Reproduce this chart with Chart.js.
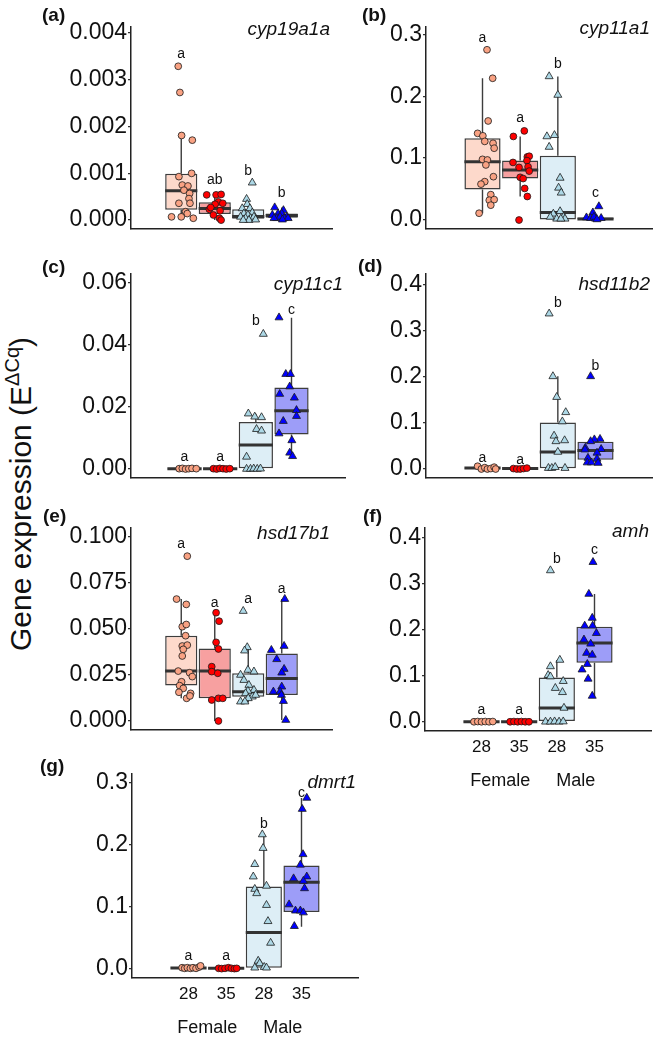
<!DOCTYPE html>
<html>
<head>
<meta charset="utf-8">
<title>Gene expression</title>
<script src="https://cdn.jsdelivr.net/npm/chart.js@4.4.1/dist/chart.umd.min.js"></script>
<style>
  html, body { margin: 0; padding: 0; background: #fff; }
  body { position: relative; width: 661px; height: 1040px; overflow: hidden;
         font-family: "Liberation Sans", Arial, Helvetica, sans-serif; color: #111; }
  canvas { position: absolute; }
  .tag { position: absolute; font-weight: bold; font-size: 19px; line-height: 19px; }
  #ytitle { position: absolute; left: 16px; top: 494px; font-size: 30px; line-height: 30px; white-space: nowrap;
            transform: translate(-50%, -50%) rotate(-90deg); }
  #ytitle span { font-size: 20px; vertical-align: 12px; }
</style>
</head>
<body>
<div id="ytitle">Gene expression (E<span>ΔCq</span>)</div>
<script>
// groups, left to right
const groupNames = ['Female 28', 'Female 35', 'Male 28', 'Male 35'];
const dayLabels = ['28', '35', '28', '35'];
const sexLabels = ['Female', 'Male'];

const boxFill = ['#fdd9cb', '#f7a0a0', '#ddeef6', '#9d9df8'];
const dotFill = ['#f9a283', '#ff0000', '#add8e6', '#0000ff'];
const dotShape = ['circle', 'circle', 'triangle', 'triangle'];

// box stats per group: [lower whisker, Q1, median, Q3, upper whisker]
// points per group: [jitter offset (category units), value]

// (a) cyp19a1a
const cyp19a1aTicks = [0, 0.001, 0.002, 0.003, 0.004];
const cyp19a1aLetters = ['a', 'ab', 'b', 'b'];
const cyp19a1aLetterY = [0.00354, 0.00085, 0.00105, 0.00057];
const cyp19a1aBox = [
  [0.00004, 0.00022, 0.00063, 0.00099, 0.00181],
  [0.00000, 0.00013, 0.00025, 0.00038, 0.00055],
  [0.00000, 0.00003, 0.00008, 0.00023, 0.00045],
  [0.00001, 0.00005, 0.00010, 0.00014, 0.00027]
];
const cyp19a1aPoints = [
  [[-0.09, 0.00329], [-0.04, 0.00273], [0.01, 0.00181], [0.33, 0.00171], [0.31, 0.00100], [-0.07, 0.00093],
   [0.03, 0.00075], [0.20, 0.00073], [0.08, 0.00064], [0.25, 0.00057], [0.23, 0.00046], [-0.07, 0.00036],
   [0.26, 0.00036], [0.13, 0.00018], [0.18, 0.00014], [0.00, 0.00007], [0.36, 0.00004], [-0.29, 0.00007]],
  [[-0.24, 0.00054], [0.04, 0.00054], [0.19, 0.00055], [0.11, 0.00039], [0.01, 0.00034], [0.24, 0.00036],
   [-0.16, 0.00023], [0.16, 0.00020], [-0.04, 0.00011], [0.14, 0.00004], [0.19, 0.00000], [-0.12, 0.00027]],
  [[0.12, 0.00080], [-0.05, 0.00045], [-0.03, 0.00034], [-0.18, 0.00025], [0.05, 0.00025], [0.12, 0.00016],
   [-0.13, 0.00014], [-0.01, 0.00011], [-0.23, 0.00007], [-0.08, 0.00004], [0.07, 0.00004], [0.17, 0.00007],
   [0.02, 0.00000], [-0.15, 0.00000], [0.22, 0.00001]],
  [[-0.21, 0.00027], [0.05, 0.00021], [-0.11, 0.00014], [-0.28, 0.00011], [0.00, 0.00014], [-0.15, 0.00004],
   [0.15, 0.00007], [0.07, 0.00004], [-0.05, 0.00007], [0.19, 0.00004], [-0.23, 0.00004], [0.02, 0.00001]]
];

// (b) cyp11a1
const cyp11a1Ticks = [0, 0.1, 0.2, 0.3];
const cyp11a1Letters = ['a', 'a', 'b', 'c'];
const cyp11a1LetterY = [0.293, 0.164, 0.251, 0.043];
const cyp11a1Box = [
  [0.011, 0.0495, 0.094, 0.132, 0.229],
  [0.038, 0.067, 0.081, 0.096, 0.135],
  [0.000, 0.001, 0.012, 0.104, 0.232],
  [0.000, 0.000, 0.0016, 0.004, 0.008]
];
const cyp11a1Points = [
  [[0.12, 0.275], [0.27, 0.229], [0.15, 0.160], [-0.13, 0.140], [0.01, 0.136], [0.06, 0.127], [0.28, 0.124],
   [0.31, 0.116], [0.00, 0.098], [0.13, 0.097], [0.09, 0.089], [0.29, 0.070], [0.06, 0.062], [-0.04, 0.058],
   [0.22, 0.041], [0.18, 0.032], [0.31, 0.033], [0.22, 0.024], [-0.09, 0.011]],
  [[0.11, 0.144], [-0.18, 0.135], [-0.19, 0.093], [0.19, 0.102], [0.24, 0.103], [0.18, 0.096], [0.21, 0.086],
   [-0.03, 0.085], [0.24, 0.079], [0.00, 0.069], [0.08, 0.067], [0.12, 0.051], [0.19, 0.038], [-0.03, 0.000]],
  [[-0.23, 0.232], [0.00, 0.202], [-0.29, 0.135], [-0.09, 0.137], [-0.23, 0.118], [0.06, 0.068], [0.02, 0.052],
   [0.09, 0.044], [0.06, 0.014], [-0.12, 0.010], [0.15, 0.005], [-0.03, 0.002], [0.19, 0.002], [0.08, 0.002],
   [-0.20, 0.005]],
  [[0.09, 0.022], [-0.07, 0.012], [-0.24, 0.004], [-0.13, 0.003], [0.00, 0.002], [0.15, 0.003], [-0.04, 0.005],
   [0.04, 0.001]]
];

// (c) cyp11c1
const cyp11c1Ticks = [0, 0.02, 0.04, 0.06];
const cyp11c1Letters = ['a', 'a', 'b', 'c'];
const cyp11c1LetterY = [0.0039, 0.0039, 0.0476, 0.0510];
const cyp11c1Box = [
  [0, 0, 0.0001, 0.0001, 0.0002],
  [0, 0, 0.0001, 0.0001, 0.0002],
  [0, 0, 0.0077, 0.0151, 0.0178],
  [0.0041, 0.0111, 0.0187, 0.0262, 0.0486]
];
const cyp11c1Points = [
  [[-0.15, 0.0001], [-0.06, 0.0002], [0.03, 0.0000], [0.12, 0.0001], [0.21, 0.0002], [0.33, 0.0001]],
  [[-0.19, 0.0001], [-0.10, 0.0000], [-0.01, 0.0002], [0.08, 0.0001], [0.17, 0.0000], [0.27, 0.0001]],
  [[0.21, 0.0434], [-0.21, 0.0178], [-0.03, 0.0168], [0.16, 0.0166], [0.02, 0.0128], [0.16, 0.0123],
   [-0.26, 0.0039], [-0.26, 0.0000], [-0.15, 0.0000], [-0.06, 0.0001], [0.04, 0.0000], [0.13, 0.0001]],
  [[-0.35, 0.0487], [-0.16, 0.0305], [-0.03, 0.0305], [-0.05, 0.0265], [-0.33, 0.0241], [0.08, 0.0229],
   [0.14, 0.0189], [0.14, 0.0170], [-0.23, 0.0154], [-0.35, 0.0114], [0.01, 0.0092], [-0.05, 0.0052],
   [0.03, 0.0041]]
];

// (d) hsd11b2
const hsd11b2Ticks = [0, 0.1, 0.2, 0.3, 0.4];
const hsd11b2Letters = ['a', 'a', 'b', 'b'];
const hsd11b2LetterY = [0.024, 0.020, 0.360, 0.224];
const hsd11b2Box = [
  [0, 0.001, 0.002, 0.003, 0.006],
  [0, 0.0005, 0.001, 0.0015, 0.002],
  [0, 0.0015, 0.037, 0.101, 0.201],
  [0.013, 0.020, 0.040, 0.059, 0.065]
];
const hsd11b2Points = [
  [[-0.13, 0.006], [-0.03, 0.000], [0.06, 0.003], [0.13, 0.000], [0.22, 0.001], [0.31, 0.004], [0.35, 0.000]],
  [[-0.18, 0.001], [-0.09, 0.000], [0.00, 0.000], [0.09, 0.001], [0.18, 0.002]],
  [[-0.23, 0.337], [-0.13, 0.201], [-0.03, 0.156], [0.21, 0.123], [0.12, 0.103], [-0.10, 0.072], [-0.05, 0.060],
   [0.18, 0.062], [0.00, 0.037], [-0.25, 0.002], [-0.16, 0.002], [-0.07, 0.004], [0.19, 0.002]],
  [[-0.13, 0.201], [0.12, 0.065], [-0.03, 0.064], [-0.13, 0.060], [-0.27, 0.046], [0.15, 0.043], [-0.28, 0.042],
   [0.04, 0.035], [-0.20, 0.024], [0.04, 0.022], [-0.22, 0.014], [-0.11, 0.014], [0.07, 0.013]]
];

// (e) hsd17b1
const hsd17b1Ticks = [0, 0.025, 0.05, 0.075, 0.1];
const hsd17b1Letters = ['a', 'a', 'a', 'a'];
const hsd17b1LetterY = [0.096, 0.0642, 0.066, 0.0716];
const hsd17b1Box = [
  [0.0123, 0.0192, 0.0271, 0.0463, 0.0662],
  [0.0000, 0.0123, 0.0271, 0.0394, 0.0588],
  [0.0101, 0.0132, 0.0159, 0.0259, 0.0407],
  [0.0005, 0.0141, 0.0231, 0.0367, 0.0662]
];
const hsd17b1Points = [
  [[0.18, 0.0895], [-0.14, 0.0662], [0.15, 0.0633], [0.03, 0.0512], [0.15, 0.0524], [0.13, 0.0463],
   [0.03, 0.0407], [0.18, 0.0412], [0.06, 0.0389], [0.03, 0.0353], [-0.09, 0.0271], [0.25, 0.0262],
   [0.33, 0.0241], [0.01, 0.0213], [-0.05, 0.0192], [0.06, 0.0177], [-0.07, 0.0156], [0.28, 0.0150],
   [0.16, 0.0123], [0.26, 0.0136]],
  [[0.04, 0.0588], [0.13, 0.0542], [0.04, 0.0427], [0.11, 0.0391], [-0.09, 0.0295], [-0.09, 0.0268],
   [0.09, 0.0259], [-0.09, 0.0114], [0.11, 0.0123], [0.24, 0.0123], [0.11, 0.0000]],
  [[-0.15, 0.0597], [-0.03, 0.0400], [-0.11, 0.0382], [-0.01, 0.0277], [0.17, 0.0268], [-0.23, 0.0250],
   [-0.13, 0.0222], [0.02, 0.0195], [0.17, 0.0168], [-0.01, 0.0163], [-0.08, 0.0150], [0.12, 0.0132],
   [0.00, 0.0123], [-0.23, 0.0105], [-0.10, 0.0105], [0.22, 0.0141]],
  [[0.09, 0.0662], [-0.31, 0.0385], [0.07, 0.0407], [-0.15, 0.0335], [0.07, 0.0282], [0.00, 0.0262],
   [0.00, 0.0186], [-0.25, 0.0159], [-0.05, 0.0159], [-0.01, 0.0141], [0.05, 0.0108], [0.12, 0.0005]]
];

// (f) amh
const amhTicks = [0, 0.1, 0.2, 0.3, 0.4];
const amhLetters = ['a', 'a', 'b', 'c'];
const amhLetterY = [0.025, 0.025, 0.353, 0.371];
const amhBox = [
  [0, 0, 0.0002, 0.0005, 0.001],
  [0, 0, 0.0002, 0.0005, 0.001],
  [0, 0, 0.030, 0.096, 0.134],
  [0.056, 0.128, 0.171, 0.206, 0.277]
];
const amhPoints = [
  [[-0.20, 0], [-0.10, 0.0005], [0.00, 0], [0.10, 0.0005], [0.20, 0], [0.30, 0.0005]],
  [[-0.24, 0], [-0.14, 0.0005], [-0.04, 0], [0.06, 0.0005], [0.16, 0], [0.26, 0]],
  [[-0.17, 0.328], [0.08, 0.134], [-0.17, 0.120], [-0.23, 0.101], [-0.17, 0.098], [0.17, 0.088], [-0.04, 0.073],
   [0.15, 0.064], [0.19, 0.030], [-0.30, 0], [-0.17, 0], [-0.06, 0.0005], [0.06, 0], [0.17, 0.0005]],
  [[-0.04, 0.346], [-0.15, 0.277], [-0.06, 0.225], [-0.26, 0.208], [-0.05, 0.208], [0.05, 0.192], [-0.28, 0.178],
   [-0.10, 0.169], [-0.21, 0.149], [-0.06, 0.145], [-0.19, 0.125], [-0.33, 0.113], [-0.17, 0.093], [-0.06, 0.056]]
];

// (g) dmrt1
const dmrt1Ticks = [0, 0.1, 0.2, 0.3];
const dmrt1Letters = ['a', 'a', 'b', 'c'];
const dmrt1LetterY = [0.0205, 0.0205, 0.234, 0.284];
const dmrt1Box = [
  [0, 0.001, 0.0015, 0.0025, 0.005],
  [0, 0.0005, 0.001, 0.0015, 0.002],
  [0, 0.002, 0.059, 0.133, 0.217],
  [0.068, 0.092, 0.140, 0.167, 0.276]
];
const dmrt1Points = [
  [[-0.17, 0.002], [-0.10, 0.001], [-0.03, 0.002], [0.05, 0.001], [0.12, 0.002], [0.20, 0.001], [0.28, 0.003],
   [0.32, 0.005]],
  [[-0.20, 0.001], [-0.12, 0.0005], [-0.03, 0.001], [0.06, 0.002], [0.14, 0.001], [0.22, 0.0005], [0.28, 0.001]],
  [[-0.04, 0.217], [-0.02, 0.195], [-0.24, 0.169], [-0.28, 0.149], [-0.24, 0.129], [-0.19, 0.122], [0.07, 0.134],
   [0.07, 0.103], [0.11, 0.077], [0.18, 0.042], [-0.15, 0.013], [-0.11, 0.009], [-0.24, 0.002], [0.01, 0.003],
   [0.07, 0.002]],
  [[0.14, 0.276], [0.02, 0.258], [0.04, 0.185], [-0.03, 0.168], [-0.21, 0.146], [0.14, 0.149], [0.05, 0.142],
   [0.08, 0.130], [-0.33, 0.104], [-0.16, 0.094], [-0.03, 0.094], [0.05, 0.091], [-0.19, 0.069]]
];

// layout of each panel on the page (axis corner positions in px)
const panels = [
  { tag: '(a)', gene: 'cyp19a1a', box: cyp19a1aBox, points: cyp19a1aPoints, letters: cyp19a1aLetters,
    letterY: cyp19a1aLetterY, ticks: cyp19a1aTicks, dec: 3, yMin: -0.00019, yMax: 0.00413,
    left: 131, top: 27, bottom: 229, right: 332, geneDy: 8, tagX: 42, tagY: 5 },
  { tag: '(b)', gene: 'cyp11a1', box: cyp11a1Box, points: cyp11a1Points, letters: cyp11a1Letters,
    letterY: cyp11a1LetterY, ticks: cyp11a1Ticks, dec: 1, yMin: -0.0145, yMax: 0.3118,
    left: 426, top: 27, bottom: 229, right: 652, geneDy: 7, tagX: 362, tagY: 5 },
  { tag: '(c)', gene: 'cyp11c1', box: cyp11c1Box, points: cyp11c1Points, letters: cyp11c1Letters,
    letterY: cyp11c1LetterY, ticks: cyp11c1Ticks, dec: 2, yMin: -0.0029, yMax: 0.0627,
    left: 131, top: 274, bottom: 478, right: 345, geneDy: 16, tagX: 42, tagY: 257 },
  { tag: '(d)', gene: 'hsd11b2', box: hsd11b2Box, points: hsd11b2Points, letters: hsd11b2Letters,
    letterY: hsd11b2LetterY, ticks: hsd11b2Ticks, dec: 1, yMin: -0.0195, yMax: 0.423,
    left: 426, top: 274, bottom: 478, right: 652, geneDy: 16, tagX: 358, tagY: 256 },
  { tag: '(e)', gene: 'hsd17b1', box: hsd17b1Box, points: hsd17b1Points, letters: hsd17b1Letters,
    letterY: hsd17b1LetterY, ticks: hsd17b1Ticks, dec: 3, yMin: -0.0049, yMax: 0.1048,
    left: 131, top: 528, bottom: 730, right: 332, geneDy: 11, tagX: 43, tagY: 506 },
  { tag: '(f)', gene: 'amh', box: amhBox, points: amhPoints, letters: amhLetters,
    letterY: amhLetterY, ticks: amhTicks, dec: 1, yMin: -0.02, yMax: 0.42,
    left: 425, top: 528, bottom: 731, right: 651, geneDy: 9, tagX: 363, tagY: 506, showDays: true },
  { tag: '(g)', gene: 'dmrt1', box: dmrt1Box, points: dmrt1Points, letters: dmrt1Letters,
    letterY: dmrt1LetterY, ticks: dmrt1Ticks, dec: 1, yMin: -0.0146, yMax: 0.3146,
    left: 132, top: 774, bottom: 978, right: 358, geneDy: 14, tagX: 40, tagY: 756, showDays: true }
];

const FONT = '"Liberation Sans", Arial, Helvetica, sans-serif';

// whiskers, medians, letters, gene name, sex labels
function boxExtras(p) {
  return {
    id: 'boxExtras',
    beforeDatasetsDraw(chart) {
      const {ctx, scales: {x, y}} = chart;
      ctx.save();
      ctx.strokeStyle = '#3d3d3d';
      ctx.lineWidth = 1.4;
      p.box.forEach((b, g) => {
        const px = x.getPixelForValue(g + 1);
        ctx.beginPath();
        ctx.moveTo(px, y.getPixelForValue(b[0]));
        ctx.lineTo(px, y.getPixelForValue(b[1]));
        ctx.moveTo(px, y.getPixelForValue(b[3]));
        ctx.lineTo(px, y.getPixelForValue(b[4]));
        ctx.stroke();
      });
      ctx.restore();
    },
    afterDatasetDraw(chart, args) {
      if (args.meta.type !== 'bar') return;
      const {ctx, scales: {y}} = chart;
      ctx.save();
      ctx.strokeStyle = '#333';
      ctx.lineWidth = 3;
      p.box.forEach((b, g) => {
        const el = args.meta.data[g];
        const py = y.getPixelForValue(b[2]);
        ctx.beginPath();
        ctx.moveTo(el.x - el.width / 2, py);
        ctx.lineTo(el.x + el.width / 2, py);
        ctx.stroke();
      });
      ctx.restore();
    },
    afterDraw(chart) {
      const {ctx, chartArea, scales: {x, y}} = chart;
      ctx.save();
      ctx.fillStyle = '#111';
      ctx.textAlign = 'center';
      ctx.textBaseline = 'middle';
      ctx.font = '14px ' + FONT;
      p.letters.forEach((t, g) => {
        ctx.fillText(t, x.getPixelForValue(g + 1), y.getPixelForValue(p.letterY[g]));
      });
      ctx.font = 'italic 19px ' + FONT;
      ctx.textAlign = 'right';
      ctx.textBaseline = 'alphabetic';
      ctx.fillText(p.gene, chartArea.right - 2, chartArea.top + p.geneDy);
      if (p.showDays) {
        ctx.font = '18px ' + FONT;
        ctx.textAlign = 'center';
        ctx.textBaseline = 'middle';
        ctx.fillText(sexLabels[0], x.getPixelForValue(1.5), chartArea.bottom + 50);
        ctx.fillText(sexLabels[1], x.getPixelForValue(3.5), chartArea.bottom + 50);
      }
      ctx.restore();
    }
  };
}

function drawPanel(p) {
  const yAxisWidth = 80, padTop = 20, padRight = 6;
  // keep room under the axis so the lowest y label never squeezes the plot
  const xAxisHeight = p.showDays ? 62 : 20;
  const width = p.right - p.left + yAxisWidth + padRight;
  const height = p.bottom - p.top + padTop + xAxisHeight;
  const canvas = document.createElement('canvas');
  canvas.width = width;
  canvas.height = height;
  canvas.style.left = (p.left - yAxisWidth) + 'px';
  canvas.style.top = (p.top - padTop) + 'px';
  document.body.appendChild(canvas);

  const datasets = p.points.map((pts, g) => ({
    type: 'scatter',
    label: groupNames[g],
    data: pts.map(([dx, v]) => ({x: g + 1 + dx, y: v})),
    pointStyle: dotShape[g],
    pointRadius: dotShape[g] === 'triangle' ? 4.6 : 3.4,
    backgroundColor: dotFill[g],
    borderColor: '#1a1a1a',
    borderWidth: 0.8,
    order: 1
  }));
  datasets.push({
    type: 'bar',
    label: 'box',
    data: p.box.map((b, g) => ({x: g + 1, y: [b[1], b[3]]})),
    backgroundColor: boxFill,
    borderColor: '#3d3d3d',
    borderWidth: 1.5,
    borderSkipped: false,
    barPercentage: 0.96,
    categoryPercentage: 1,
    order: 2
  });

  new Chart(canvas, {
    type: 'bar',
    data: { datasets: datasets },
    options: {
      responsive: false,
      animation: false,
      devicePixelRatio: 1,
      events: [],
      layout: { padding: { top: padTop, right: padRight, left: 0, bottom: 0 } },
      plugins: { legend: { display: false }, tooltip: { enabled: false } },
      scales: {
        x: {
          type: 'linear',
          min: -0.5,
          max: 5.5,
          offset: false,
          afterBuildTicks: s => { s.ticks = dayLabels.map((d, i) => ({value: i + 1})); },
          afterFit: s => { s.height = xAxisHeight; },
          grid: { display: false, drawTicks: false },
          border: { display: true, color: '#222', width: 1.5 },
          ticks: {
            display: !!p.showDays,
            autoSkip: false,
            maxRotation: 0,
            padding: 6,
            color: '#111',
            font: { size: 17 },
            callback: (v, i) => dayLabels[i]
          }
        },
        y: {
          min: p.yMin,
          max: p.yMax,
          afterBuildTicks: s => { s.ticks = p.ticks.map(v => ({value: v})); },
          afterFit: s => { s.width = yAxisWidth; },
          grid: { display: true, drawOnChartArea: false, drawTicks: true, tickLength: 3, color: '#333', lineWidth: 1.3 },
          border: { display: true, color: '#222', width: 1.5 },
          ticks: {
            padding: 1,
            color: '#111',
            font: { size: 23 },
            callback: v => v.toFixed(p.dec)
          }
        }
      }
    },
    plugins: [boxExtras(p)]
  });

  const tag = document.createElement('div');
  tag.className = 'tag';
  tag.textContent = p.tag;
  tag.style.left = p.tagX + 'px';
  tag.style.top = p.tagY + 'px';
  document.body.appendChild(tag);
}

Chart.defaults.font.family = FONT;
panels.forEach(drawPanel);
</script>
</body>
</html>
